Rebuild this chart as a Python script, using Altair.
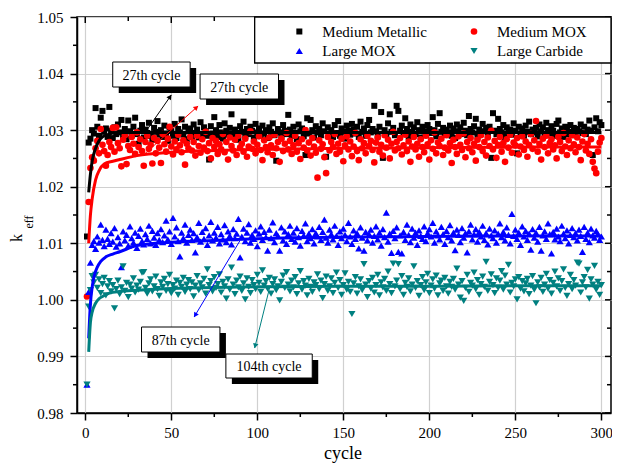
import math
import altair as alt
import pandas as pd

# ---------------- data ----------------
medium_metallic = [
    1.0112, 1.0278, 1.0285, 1.0300, 1.0294, 1.0339, 1.0306, 1.0290, 1.0322, 1.0334, 1.0297, 1.0303, 1.0288, 1.0341, 1.0299,
    1.0286, 1.0305, 1.0293, 1.0310, 1.0296, 1.0318, 1.0289, 1.0302, 1.0284, 1.0317, 1.0298, 1.0291, 1.0306, 1.0322, 1.0293,
    1.0276, 1.0299, 1.0309, 1.0287, 1.0301, 1.0295, 1.0313, 1.0290, 1.0283, 1.0304, 1.0297, 1.0316, 1.0292, 1.0300, 1.0288,
    1.0308, 1.0294, 1.0281, 1.0305, 1.0299, 1.0290, 1.0311, 1.0286, 1.0302, 1.0296, 1.0319, 1.0292, 1.0306, 1.0284, 1.0298,
    1.0303, 1.0289, 1.0310, 1.0295, 1.0301, 1.0287, 1.0314, 1.0293, 1.0305, 1.0298, 1.0290, 1.0248, 1.0307, 1.0294, 1.0323,
    1.0300, 1.0288, 1.0309, 1.0296, 1.0285, 1.0312, 1.0299, 1.0292, 1.0304, 1.0328, 1.0291, 1.0301, 1.0295, 1.0283, 1.0307,
    1.0297, 1.0315, 1.0289, 1.0302, 1.0293, 1.0306, 1.0299, 1.0287, 1.0311, 1.0296, 1.0303, 1.0290, 1.0308, 1.0294, 1.0300,
    1.0286, 1.0305, 1.0297, 1.0312, 1.0291, 1.0246, 1.0302, 1.0296, 1.0288, 1.0309, 1.0299, 1.0293, 1.0327, 1.0301, 1.0290,
    1.0306, 1.0295, 1.0284, 1.0310, 1.0298, 1.0303, 1.0289, 1.0256, 1.0321, 1.0294, 1.0318, 1.0300, 1.0287, 1.0307, 1.0296,
    1.0302, 1.0291, 1.0312, 1.0298, 1.0253, 1.0305, 1.0293, 1.0300, 1.0288, 1.0309, 1.0295, 1.0316, 1.0290, 1.0303, 1.0297,
    1.0285, 1.0308, 1.0299, 1.0292, 1.0311, 1.0301, 1.0294, 1.0306, 1.0288, 1.0315, 1.0297, 1.0303, 1.0290, 1.0309, 1.0318,
    1.0296, 1.0302, 1.0343, 1.0298, 1.0289, 1.0306, 1.0332, 1.0251, 1.0300, 1.0293, 1.0312, 1.0328, 1.0297, 1.0304, 1.0291,
    1.0343, 1.0334, 1.0299, 1.0308, 1.0295, 1.0321, 1.0302, 1.0288, 1.0310, 1.0297, 1.0305, 1.0293, 1.0314, 1.0300, 1.0287,
    1.0306, 1.0298, 1.0291, 1.0309, 1.0302, 1.0295, 1.0323, 1.0300, 1.0289, 1.0311, 1.0330, 1.0297, 1.0304, 1.0292, 1.0301,
    1.0296, 1.0308, 1.0290, 1.0303, 1.0286, 1.0310, 1.0298, 1.0305, 1.0293, 1.0313, 1.0299, 1.0291, 1.0325, 1.0302, 1.0296,
    1.0307, 1.0320, 1.0289, 1.0301, 1.0294, 1.0311, 1.0298, 1.0304, 1.0290, 1.0306, 1.0251, 1.0330, 1.0299, 1.0293, 1.0320,
    1.0302, 1.0296, 1.0309, 1.0288, 1.0305, 1.0297, 1.0301, 1.0292, 1.0312, 1.0299, 1.0259, 1.0306, 1.0294, 1.0303, 1.0290,
    1.0308, 1.0297, 1.0315, 1.0293, 1.0301, 1.0296, 1.0304, 1.0289, 1.0310, 1.0298, 1.0305, 1.0292, 1.0313, 1.0300, 1.0294,
    1.0307, 1.0299, 1.0290, 1.0311, 1.0317, 1.0296, 1.0303, 1.0288, 1.0306, 1.0300, 1.0293, 1.0309, 1.0297, 1.0304, 1.0291,
    1.0302, 1.0298, 1.0310, 1.0295, 1.0306, 1.0293, 1.0301, 1.0317, 1.0299, 1.0256, 1.0305, 1.0321, 1.0298, 1.0314, 1.0309,
]

medium_mox = [
    1.0006, 1.0173, 1.0233, 1.0252, 1.0246, 1.0268, 1.0281, 1.0259, 1.0302, 1.0274, 1.0263, 1.0237, 1.0256, 1.0279, 1.0270,
    1.0304, 1.0262, 1.0305, 1.0277, 1.0268, 1.0236, 1.0283, 1.0291, 1.0240, 1.0272, 1.0265, 1.0288, 1.0276, 1.0258, 1.0296,
    1.0270, 1.0284, 1.0263, 1.0237, 1.0279, 1.0290, 1.0267, 1.0274, 1.0241, 1.0286, 1.0259, 1.0281, 1.0269, 1.0242, 1.0293,
    1.0275, 1.0262, 1.0285, 1.0306, 1.0271, 1.0257, 1.0280, 1.0266, 1.0292, 1.0273, 1.0261, 1.0282, 1.0239, 1.0276, 1.0268,
    1.0288, 1.0264, 1.0279, 1.0255, 1.0290, 1.0272, 1.0260, 1.0284, 1.0269, 1.0297, 1.0263, 1.0277, 1.0250, 1.0286, 1.0270,
    1.0281, 1.0258, 1.0275, 1.0266, 1.0293, 1.0261, 1.0279, 1.0248, 1.0287, 1.0272, 1.0264, 1.0283, 1.0256, 1.0290, 1.0269,
    1.0276, 1.0262, 1.0285, 1.0253, 1.0271, 1.0298, 1.0267, 1.0280, 1.0259, 1.0274, 1.0289, 1.0265, 1.0247, 1.0282, 1.0270,
    1.0261, 1.0287, 1.0273, 1.0256, 1.0292, 1.0268, 1.0279, 1.0244, 1.0285, 1.0263, 1.0276, 1.0295, 1.0266, 1.0281, 1.0258,
    1.0273, 1.0290, 1.0262, 1.0277, 1.0249, 1.0284, 1.0269, 1.0300, 1.0264, 1.0278, 1.0255, 1.0286, 1.0271, 1.0260, 1.0216,
    1.0282, 1.0267, 1.0275, 1.0252, 1.0224, 1.0288, 1.0264, 1.0279, 1.0270, 1.0293, 1.0258, 1.0276, 1.0262, 1.0285, 1.0245,
    1.0273, 1.0289, 1.0266, 1.0280, 1.0254, 1.0271, 1.0295, 1.0263, 1.0247, 1.0284, 1.0268, 1.0277, 1.0259, 1.0290, 1.0272,
    1.0281, 1.0265, 1.0243, 1.0278, 1.0287, 1.0262, 1.0274, 1.0255, 1.0291, 1.0269, 1.0283, 1.0250, 1.0276, 1.0297, 1.0264,
    1.0279, 1.0268, 1.0286, 1.0257, 1.0273, 1.0292, 1.0263, 1.0280, 1.0244, 1.0271, 1.0288, 1.0266, 1.0276, 1.0253, 1.0284,
    1.0270, 1.0261, 1.0290, 1.0275, 1.0248, 1.0282, 1.0267, 1.0296, 1.0259, 1.0278, 1.0272, 1.0285, 1.0256, 1.0269, 1.0291,
    1.0264, 1.0277, 1.0242, 1.0283, 1.0270, 1.0258, 1.0289, 1.0274, 1.0265, 1.0294, 1.0252, 1.0279, 1.0268, 1.0286, 1.0261,
    1.0276, 1.0246, 1.0283, 1.0270, 1.0291, 1.0263, 1.0279, 1.0255, 1.0287, 1.0272, 1.0299, 1.0266, 1.0281, 1.0251, 1.0274,
    1.0288, 1.0262, 1.0277, 1.0244, 1.0284, 1.0269, 1.0292, 1.0260, 1.0278, 1.0273, 1.0286, 1.0257, 1.0271, 1.0289, 1.0265,
    1.0280, 1.0253, 1.0274, 1.0293, 1.0267, 1.0282, 1.0316, 1.0262, 1.0276, 1.0248, 1.0285, 1.0270, 1.0290, 1.0259, 1.0277,
    1.0284, 1.0266, 1.0273, 1.0250, 1.0288, 1.0279, 1.0263, 1.0295, 1.0271, 1.0256, 1.0282, 1.0268, 1.0291, 1.0275, 1.0261,
    1.0287, 1.0270, 1.0247, 1.0280, 1.0293, 1.0264, 1.0276, 1.0258, 1.0284, 1.0244, 1.0232, 1.0224, 1.0262, 1.0278, 1.0286,
]

large_mox = [
    0.9850, 1.0014, 1.0066, 1.0097, 1.0104, 1.0090, 1.0112, 1.0101, 1.0133, 1.0106, 1.0095, 1.0124, 1.0108, 1.0099, 1.0118,
    1.0103, 1.0127, 1.0094, 1.0111, 1.0100, 1.0058, 1.0121, 1.0105, 1.0115, 1.0096, 1.0130, 1.0109, 1.0101, 1.0119, 1.0092,
    1.0113, 1.0126, 1.0104, 1.0098, 1.0116, 1.0108, 1.0131, 1.0100, 1.0122, 1.0110, 1.0097, 1.0118, 1.0106, 1.0125, 1.0102,
    1.0114, 1.0140, 1.0107, 1.0121, 1.0099, 1.0145, 1.0112, 1.0128, 1.0104, 1.0077, 1.0119, 1.0109, 1.0133, 1.0101, 1.0115,
    1.0124, 1.0106, 1.0118, 1.0084, 1.0111, 1.0136, 1.0103, 1.0120, 1.0108, 1.0127, 1.0097, 1.0114, 1.0138, 1.0105, 1.0119,
    1.0110, 1.0129, 1.0100, 1.0116, 1.0107, 1.0132, 1.0102, 1.0121, 1.0113, 1.0098, 1.0125, 1.0109, 1.0117, 1.0143, 1.0075,
    1.0112, 1.0126, 1.0104, 1.0119, 1.0134, 1.0101, 1.0115, 1.0108, 1.0123, 1.0095, 1.0117, 1.0130, 1.0106, 1.0120, 1.0111,
    1.0087, 1.0124, 1.0109, 1.0137, 1.0102, 1.0118, 1.0113, 1.0087, 1.0128, 1.0105, 1.0121, 1.0099, 1.0116, 1.0131, 1.0108,
    1.0119, 1.0103, 1.0127, 1.0111, 1.0096, 1.0122, 1.0114, 1.0135, 1.0104, 1.0117, 1.0109, 1.0125, 1.0100, 1.0118, 1.0112,
    1.0129, 1.0106, 1.0120, 1.0142, 1.0110, 1.0101, 1.0124, 1.0116, 1.0107, 1.0131, 1.0113, 1.0097, 1.0121, 1.0109, 1.0126,
    1.0115, 1.0104, 1.0136, 1.0112, 1.0099, 1.0123, 1.0108, 1.0118, 1.0091, 1.0128, 1.0110, 1.0087, 1.0120, 1.0105, 1.0116,
    1.0124, 1.0101, 1.0113, 1.0130, 1.0107, 1.0119, 1.0096, 1.0125, 1.0111, 1.0154, 1.0103, 1.0117, 1.0083, 1.0122, 1.0109,
    1.0128, 1.0085, 1.0114, 1.0082, 1.0120, 1.0106, 1.0133, 1.0115, 1.0102, 1.0126, 1.0110, 1.0119, 1.0097, 1.0123, 1.0113,
    1.0108, 1.0130, 1.0104, 1.0118, 1.0125, 1.0112, 1.0136, 1.0101, 1.0121, 1.0114, 1.0107, 1.0129, 1.0116, 1.0099, 1.0122,
    1.0111, 1.0132, 1.0105, 1.0119, 1.0088, 1.0124, 1.0115, 1.0102, 1.0127, 1.0110, 1.0118, 1.0084, 1.0121, 1.0133, 1.0107,
    1.0116, 1.0125, 1.0103, 1.0120, 1.0112, 1.0131, 1.0106, 1.0118, 1.0098, 1.0126, 1.0114, 1.0109, 1.0123, 1.0101, 1.0117,
    1.0135, 1.0111, 1.0120, 1.0105, 1.0128, 1.0115, 1.0100, 1.0152, 1.0113, 1.0124, 1.0108, 1.0119, 1.0097, 1.0130, 1.0112,
    1.0122, 1.0106, 1.0117, 1.0089, 1.0125, 1.0110, 1.0119, 1.0103, 1.0129, 1.0087, 1.0114, 1.0121, 1.0108, 1.0135, 1.0116,
    1.0082, 1.0120, 1.0107, 1.0126, 1.0112, 1.0104, 1.0131, 1.0117, 1.0109, 1.0123, 1.0100, 1.0115, 1.0127, 1.0111, 1.0118,
    1.0105, 1.0124, 1.0113, 1.0085, 1.0129, 1.0108, 1.0119, 1.0102, 1.0126, 1.0114, 1.0110, 1.0122, 1.0116, 1.0106, 1.0112,
]

large_carbide = [
    0.9850, 0.9988, 1.0017, 1.0042, 1.0031, 1.0044, 1.0021, 1.0036, 1.0012, 1.0028, 1.0039, 1.0008, 1.0024, 1.0033, 1.0015,
    1.0026, 0.9985, 1.0019, 1.0034, 1.0010, 1.0022, 1.0059, 1.0016, 1.0030, 1.0005, 1.0027, 1.0020, 1.0038, 1.0013, 1.0025,
    1.0018, 1.0032, 1.0048, 1.0049, 1.0021, 1.0011, 1.0029, 1.0036, 1.0015, 1.0024, 1.0041, 1.0019, 1.0007, 1.0031, 1.0023,
    1.0037, 1.0016, 1.0028, 1.0044, 1.0012, 1.0026, 1.0020, 1.0034, 1.0009, 1.0030, 1.0023, 1.0039, 1.0014, 1.0027, 1.0035,
    1.0019, 1.0031, 1.0006, 1.0025, 1.0042, 1.0017, 1.0029, 1.0022, 1.0037, 1.0011, 1.0054, 1.0026, 1.0033, 1.0015, 1.0040,
    1.0021, 1.0028, 1.0045, 1.0013, 1.0032, 1.0024, 1.0002, 1.0036, 1.0018, 1.0057, 1.0027, 1.0010, 1.0034, 1.0022, 1.0041,
    1.0016, 1.0029, 1.0001, 1.0038, 1.0023, 1.0012, 1.0035, 1.0026, 1.0019, 1.0044, 1.0030, 1.0014, 1.0052, 1.0025, 1.0033,
    1.0020, 1.0039, 1.0011, 1.0028, 1.0036, 1.0017, 1.0024, 0.9999, 1.0032, 1.0043, 1.0021, 1.0049, 1.0027, 1.0015, 1.0034,
    1.0022, 1.0040, 1.0010, 1.0029, 1.0051, 1.0018, 1.0033, 1.0025, 1.0008, 1.0037, 1.0023, 1.0014, 1.0031, 1.0026, 1.0045,
    1.0019, 1.0034, 1.0003, 1.0028, 1.0041, 1.0016, 1.0024, 1.0038, 1.0012, 1.0030, 1.0048, 1.0021, 1.0035, 1.0009, 1.0026,
    1.0047, 1.0018, 1.0032, 1.0014, 0.9975, 1.0029, 1.0040, 1.0011, 1.0024, 1.0036, 1.0017, 1.0063, 1.0027, 1.0005, 1.0033,
    1.0020, 1.0039, 1.0013, 1.0026, 1.0044, 1.0008, 1.0031, 1.0022, 1.0037, 1.0016, 1.0050, 1.0028, 1.0012, 1.0064, 1.0024,
    1.0034, 1.0063, 1.0019, 1.0042, 1.0009, 1.0030, 1.0023, 1.0038, 1.0015, 1.0027, 1.0059, 1.0021, 1.0033, 1.0007, 1.0026,
    1.0040, 1.0017, 1.0031, 1.0046, 1.0012, 1.0025, 1.0036, 1.0020, 1.0043, 1.0008, 1.0029, 1.0034, 1.0016, 1.0039, 1.0024,
    1.0011, 1.0032, 1.0023, 1.0037, 1.0018, 1.0055, 1.0027, 1.0004, 1.0033, 0.9998, 1.0021, 1.0044, 1.0014, 1.0030, 1.0025,
    1.0048, 1.0019, 1.0035, 1.0009, 1.0028, 1.0041, 1.0023, 1.0067, 1.0016, 1.0032, 1.0045, 1.0026, 1.0012, 1.0038, 1.0021,
    1.0034, 1.0051, 1.0018, 1.0043, 1.0027, 1.0062, 1.0013, 1.0030, 1.0024, 1.0036, 1.0001, 1.0040, 1.0020, 1.0033, 1.0015,
    1.0029, 1.0037, 1.0010, 1.0025, 1.0042, 1.0018, 0.9994, 1.0031, 1.0022, 1.0039, 1.0014, 1.0027, 1.0046, 1.0020, 1.0035,
    1.0011, 1.0030, 1.0050, 1.0024, 1.0038, 1.0016, 1.0033, 1.0054, 1.0021, 1.0007, 1.0028, 1.0044, 1.0019, 1.0035, 1.0025,
    1.0066, 1.0064, 1.0013, 1.0031, 1.0040, 1.0022, 1.0053, 1.0002, 1.0036, 1.0027, 1.0060, 1.0018, 1.0032, 1.0009, 1.0026,
]

# fitted (averaged) curves
metallic_fit_cycle = [2, 3, 4, 6, 8, 10, 13, 16, 20, 30, 50, 100, 150, 200, 250, 300]
metallic_fit_keff = [1.0190, 1.0222, 1.0245, 1.0268, 1.0281, 1.0288, 1.0292, 1.0295, 1.0296, 1.0296, 1.0296, 1.0296, 1.0296, 1.0296, 1.0296, 1.0296]
mmox_fit_cycle = [2, 3, 4, 6, 8, 11, 16, 20, 30, 50, 75, 100, 150, 200, 250, 300]
mmox_fit_keff = [1.0100, 1.0150, 1.0178, 1.0212, 1.0228, 1.0240, 1.0245, 1.0248, 1.0255, 1.0261, 1.0264, 1.0266, 1.0268, 1.0269, 1.0270, 1.0270]
lmox_fit_cycle = [2, 3, 4, 5, 7, 9, 12, 16, 20, 30, 50, 75, 100, 150, 200, 250, 300]
lmox_fit_keff = [0.9932, 0.9993, 1.0022, 1.0040, 1.0058, 1.0068, 1.0076, 1.0081, 1.0085, 1.0096, 1.0102, 1.0105, 1.0108, 1.0111, 1.0112, 1.0113, 1.0113]
carb_fit_cycle = [2, 3, 4, 6, 8, 10, 14, 20, 30, 50, 75, 100, 150, 200, 250, 300]
carb_fit_keff = [0.9908, 0.9960, 0.9978, 0.9994, 1.0002, 1.0006, 1.0012, 1.0015, 1.0017, 1.0020, 1.0022, 1.0023, 1.0024, 1.0024, 1.0025, 1.0025]

x_ticks = [0, 50, 100, 150, 200, 250, 300]
x_minor = [25, 75, 125, 175, 225, 275]
y_ticks = [0.98, 0.99, 1.00, 1.01, 1.02, 1.03, 1.04, 1.05]
y_minor = [0.985, 0.995, 1.005, 1.015, 1.025, 1.035, 1.045]

series_names = ["Medium Metallic", "Medium MOX", "Large MOX", "Large Carbide"]
annotations = ["27th cycle", "27th cycle", "87th cycle", "104th cycle"]

# ---------------- styling / layout ----------------
FONT = "Liberation Serif"
W, H = 534, 396
PAD_L, PAD_T, PAD_R, PAD_B = 69, 9, 1, 51
BLACK, RED, BLUE, TEAL = "#000000", "#ff0000", "#0000ff", "#008080"
SZ_SQ, SZ_CI, SZ_TR = 36, 44, 52


# reference picture: plot area spans page x 79..617, y 17..413
def sx(px):
    return (px - 79) * W / 538.0


def sy(py):
    return py - 17


xs = alt.Scale(domain=[-4.8, 305.6], nice=False, zero=False)
ys = alt.Scale(domain=[0.98, 1.05], nice=False, zero=False)
xaxis = alt.Axis(values=x_ticks, title=None, grid=True, tickSize=7, labelPadding=5,
                 labelFontSize=15, labelFont=FONT, labelColor="black", format="d")
yaxis = alt.Axis(values=y_ticks, title=None, grid=True, tickSize=7, labelPadding=7,
                 labelFontSize=15, labelFont=FONT, labelColor="black", format=".2f")

one = pd.DataFrame({"d": [0]})


def X(field):
    return alt.X(field, type="quantitative", scale=xs, axis=xaxis)


def Y(field):
    return alt.Y(field, type="quantitative", scale=ys, axis=yaxis)


def scatter(vals, shape, color, size):
    df = pd.DataFrame({"cycle": list(range(1, len(vals) + 1)), "keff": vals})
    return alt.Chart(df).mark_point(shape=shape, filled=True, color=color, size=size,
                                    opacity=1).encode(x=X("cycle"), y=Y("keff"))


def fit(cyc, vals, color):
    df = pd.DataFrame({"cycle": cyc, "keff": vals})
    return alt.Chart(df).mark_line(color=color, strokeWidth=3, interpolate="monotone").encode(
        x=X("cycle"), y=Y("keff"))


def xtick_layer(vals, y1, y2):
    df = pd.DataFrame({"c": vals})
    return alt.Chart(df).mark_rule(color="black", strokeWidth=1.5).encode(
        x=X("c"), y=alt.value(y1), y2=alt.value(y2))


def ytick_layer(vals, x1, x2):
    df = pd.DataFrame({"v": vals})
    return alt.Chart(df).mark_rule(color="black", strokeWidth=1.5).encode(
        y=Y("v"), x=alt.value(x1), x2=alt.value(x2))


layers = [
    xtick_layer(x_minor, H, H + 4),
    xtick_layer(x_ticks, 0, 6),
    xtick_layer(x_minor, 0, 4),
    ytick_layer(y_minor, 0, -4),
    ytick_layer(y_ticks, W, W - 6),
    ytick_layer(y_minor, W, W - 4),
    scatter(medium_metallic, "square", BLACK, SZ_SQ),
    scatter(medium_mox, "circle", RED, SZ_CI),
    scatter(large_mox, "triangle-up", BLUE, SZ_TR),
    scatter(large_carbide, "triangle-down", TEAL, SZ_TR),
    fit(metallic_fit_cycle, metallic_fit_keff, BLACK),
    fit(mmox_fit_cycle, mmox_fit_keff, RED),
    fit(lmox_fit_cycle, lmox_fit_keff, BLUE),
    fit(carb_fit_cycle, carb_fit_keff, TEAL),
]

# legend box (manual, two columns)
layers.append(alt.Chart(one).mark_rect(fill="white", stroke="black", strokeWidth=1.3).encode(
    x=alt.value(sx(258)), x2=alt.value(W), y=alt.value(0), y2=alt.value(sy(63))))
leg_items = [
    (303, 31.5, "square", BLACK, SZ_SQ),
    (479, 31.5, "circle", RED, SZ_CI),
    (303, 51, "triangle-up", BLUE, SZ_TR),
    (479, 51, "triangle-down", TEAL, SZ_TR),
]
for (px, py, shp, col, sz), name in zip(leg_items, series_names):
    layers.append(alt.Chart(one).mark_point(shape=shp, filled=True, color=col, size=sz, opacity=1).encode(
        x=alt.value(sx(px)), y=alt.value(sy(py))))
    layers.append(alt.Chart(one).mark_text(text=name, font=FONT, fontSize=15, align="left",
                                           baseline="middle", color="black").encode(
        x=alt.value(sx(px) + 23), y=alt.value(sy(py))))

# arrows (reference page coordinates)
arrows = [
    ((148, 132), (174, 95), BLACK),
    ((147, 154), (201, 106), RED),
    ((243, 241), (197, 317), BLUE),
    ((273, 288), (258, 348), TEAL),
]
for (ax1, ay1), (ax2, ay2), col in arrows:
    x1, y1, x2, y2 = sx(ax1), sy(ay1), sx(ax2), sy(ay2)
    layers.append(alt.Chart(one).mark_rule(color=col, strokeWidth=1).encode(
        x=alt.value(x1), y=alt.value(y1), x2=alt.value(x2), y2=alt.value(y2)))
    dx, dy = x2 - x1, y2 - y1
    ang = math.degrees(math.atan2(dx, -dy)) % 360
    L = math.hypot(dx, dy)
    hx, hy = x2 - 3 * dx / L, y2 - 3 * dy / L
    layers.append(alt.Chart(one).mark_point(shape="triangle", filled=True, color=col, size=30,
                                            opacity=1, angle=ang).encode(
        x=alt.value(hx), y=alt.value(hy)))

# annotation boxes with drop shadow (reference page coordinates)
boxes = [(115, 62, 193, 87), (203, 74, 282, 99), (144, 327, 223, 352), (229, 354, 316, 378)]
for (bx1, by1, bx2, by2) in boxes:
    layers.append(alt.Chart(one).mark_rect(fill="black").encode(
        x=alt.value(sx(bx1) + 6), x2=alt.value(sx(bx2) + 6),
        y=alt.value(sy(by1) + 6), y2=alt.value(sy(by2) + 6)))
for (bx1, by1, bx2, by2), label in zip(boxes, annotations):
    layers.append(alt.Chart(one).mark_rect(fill="white", stroke="black", strokeWidth=1).encode(
        x=alt.value(sx(bx1)), x2=alt.value(sx(bx2)), y=alt.value(sy(by1)), y2=alt.value(sy(by2))))
    layers.append(alt.Chart(one).mark_text(text=label, font=FONT, fontSize=14, align="center",
                                           baseline="middle", color="black").encode(
        x=alt.value((sx(bx1) + sx(bx2)) / 2), y=alt.value((sy(by1) + sy(by2)) / 2 + 1)))

# axis titles
layers.append(alt.Chart(one).mark_text(text="cycle", font=FONT, fontSize=18, align="center",
                                       baseline="middle", color="black").encode(
    x=alt.value(sx(347)), y=alt.value(sy(454))))
layers.append(alt.Chart(one).mark_text(text="k", font=FONT, fontSize=16, angle=270, align="center",
                                       baseline="middle", color="black").encode(
    x=alt.value(sx(18.5)), y=alt.value(sy(238))))
layers.append(alt.Chart(one).mark_text(text="eff", font=FONT, fontSize=12, angle=270, align="center",
                                       baseline="middle", color="black").encode(
    x=alt.value(sx(31)), y=alt.value(sy(222))))

chart = alt.layer(*layers).properties(
    width=W, height=H,
    autosize=alt.AutoSizeParams(type="none"),
    padding={"left": PAD_L, "top": PAD_T, "right": PAD_R, "bottom": PAD_B},
).configure(font=FONT).configure_view(
    stroke="black", strokeWidth=1.5
).configure_axis(
    domainColor="black", domainWidth=1.5, tickColor="black", tickWidth=1.5,
    gridColor="#d0d0d0", gridWidth=1.2,
)

chart.save("out.html", embed_options={"renderer": "svg", "actions": False})
